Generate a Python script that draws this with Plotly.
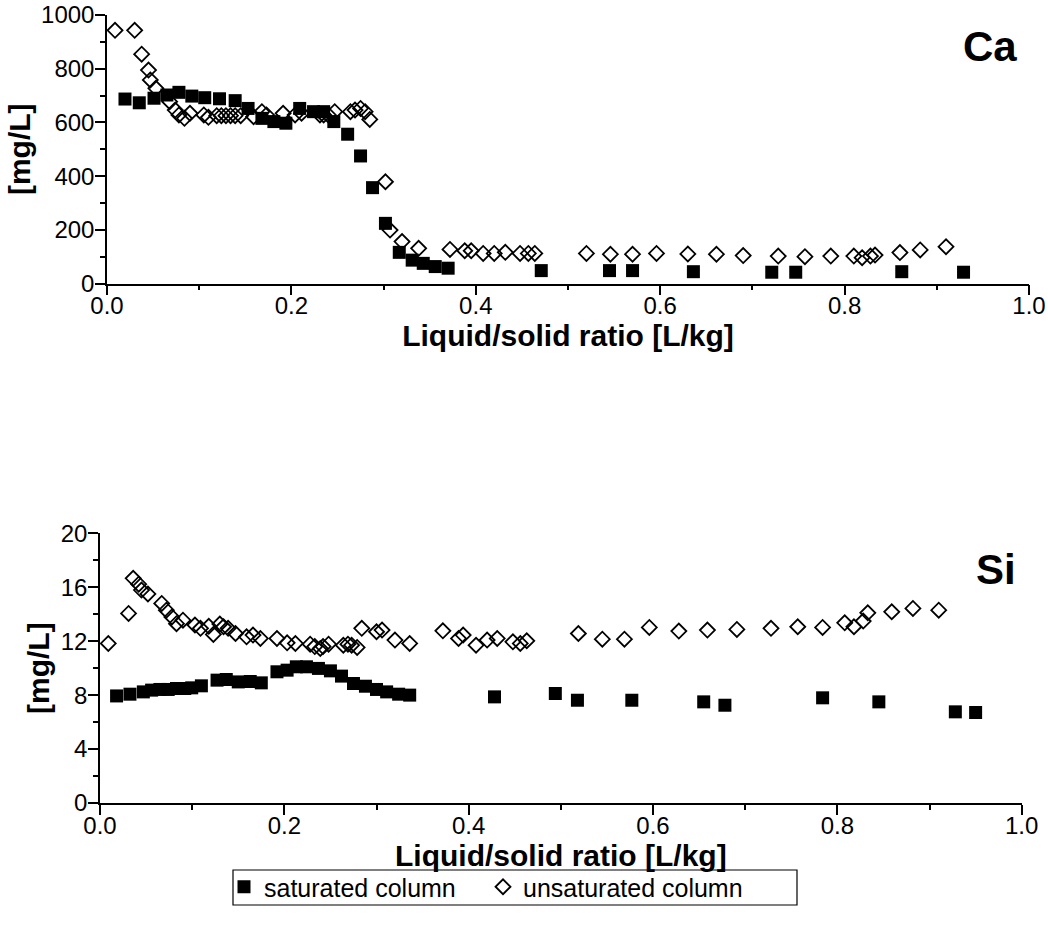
import plotly.graph_objects as go

# ---------------- data ----------------
ca_sat_x = [0.0195, 0.035, 0.051, 0.065, 0.078, 0.092, 0.106, 0.122, 0.139, 0.153, 0.168, 0.181,
            0.194, 0.209, 0.224, 0.235, 0.246, 0.261, 0.275, 0.288, 0.302, 0.317, 0.331, 0.343,
            0.356, 0.370, 0.471, 0.545, 0.570, 0.636, 0.721, 0.747, 0.862, 0.929]
ca_sat_y = [687, 673, 690, 702, 712, 698, 692, 688, 681, 652, 615, 603,
            597, 652, 640, 640, 603, 556, 475, 357, 224, 116, 87, 75,
            63, 57, 48, 48, 48, 44, 42, 42, 44, 42]

ca_uns_x = [0.0087, 0.030, 0.0376, 0.045, 0.047, 0.053, 0.068, 0.074, 0.078, 0.084, 0.090, 0.105,
            0.110, 0.119, 0.124, 0.129, 0.134, 0.139, 0.145, 0.159, 0.168, 0.173, 0.191, 0.204,
            0.211, 0.231, 0.235, 0.240, 0.247, 0.264, 0.269, 0.275, 0.280, 0.285, 0.302, 0.307,
            0.320, 0.338, 0.372, 0.388, 0.395, 0.408, 0.420, 0.432, 0.448, 0.457, 0.464, 0.520,
            0.546, 0.570, 0.596, 0.630, 0.661, 0.690, 0.728, 0.757, 0.785, 0.810, 0.819, 0.828,
            0.833, 0.860, 0.882, 0.910]
ca_uns_y = [943, 943, 854, 795, 758, 727, 677, 646, 628, 615, 634, 628,
            619, 625, 625, 625, 625, 625, 625, 621, 640, 628, 634, 628,
            634, 628, 628, 628, 640, 640, 646, 652, 640, 611, 379, 199,
            156, 131, 127, 122, 122, 112, 112, 116, 112, 112, 112, 112,
            109, 109, 112, 110, 109, 104, 102, 100, 102, 102, 96, 102,
            106, 115, 125, 137]

si_sat_x = [0.018, 0.0325, 0.047, 0.056, 0.065, 0.074, 0.083, 0.092, 0.0995, 0.110, 0.127, 0.137,
            0.150, 0.163, 0.175, 0.192, 0.203, 0.213, 0.224, 0.237, 0.250, 0.262, 0.275, 0.288,
            0.300, 0.311, 0.324, 0.336, 0.428, 0.494, 0.518, 0.577, 0.655, 0.678, 0.784, 0.845,
            0.928, 0.950]
si_sat_y = [7.94, 8.07, 8.24, 8.37, 8.42, 8.42, 8.49, 8.49, 8.54, 8.69, 9.11, 9.16,
            8.98, 9.01, 8.91, 9.73, 9.85, 10.1, 10.1, 9.98, 9.80, 9.41, 8.86, 8.66,
            8.42, 8.24, 8.07, 8.0, 7.87, 8.12, 7.62, 7.62, 7.5, 7.25, 7.8, 7.5,
            6.76, 6.71]

si_uns_x = [0.009, 0.031, 0.036, 0.042, 0.045, 0.052, 0.067, 0.072, 0.078, 0.083, 0.090, 0.103,
            0.109, 0.118, 0.123, 0.130, 0.134, 0.139, 0.147, 0.159, 0.166, 0.174, 0.192, 0.203,
            0.212, 0.228, 0.233, 0.239, 0.242, 0.248, 0.264, 0.269, 0.273, 0.279, 0.284, 0.300,
            0.306, 0.320, 0.336, 0.372, 0.389, 0.394, 0.408, 0.420, 0.431, 0.448, 0.456, 0.463,
            0.519, 0.545, 0.569, 0.596, 0.628, 0.659, 0.691, 0.728, 0.757, 0.784, 0.808, 0.818,
            0.828, 0.833, 0.859, 0.882, 0.910]
si_uns_y = [11.83, 14.06, 16.66, 16.23, 15.79, 15.5, 14.8, 14.3, 13.8, 13.3, 13.56, 13.2,
            12.95, 13.1, 12.5, 13.27, 13.07, 12.95, 12.57, 12.32, 12.45, 12.2, 12.2, 11.88,
            11.83, 11.78, 11.6, 11.46, 11.6, 11.78, 11.7, 11.78, 11.7, 11.54, 12.95, 12.7,
            12.82, 12.08, 11.83, 12.77, 12.2, 12.45, 11.7, 12.08, 12.2, 11.95, 11.83, 12.03,
            12.57, 12.15, 12.15, 13.02, 12.75, 12.82, 12.87, 12.95, 13.07, 13.02, 13.36, 13.07,
            13.49, 14.1, 14.18, 14.43, 14.3]

series_names = ["saturated column", "unsaturated column"]
x_title = "Liquid/solid ratio [L/kg]"
y_title = "[mg/L]"
panel_labels = ["Ca", "Si"]

# ---------------- figure ----------------
FONT = "Liberation Sans, Arial, sans-serif"
W, H = 1048, 937
ML, MR, MT, MB = 100, 19, 15, 134
PW, PH = W - ML - MR, H - MT - MB


def px_x(p):
    return (p - ML) / PW


def px_y(p):
    return (H - MB - p) / PH


sq = dict(symbol="square", size=13, color="black", line=dict(width=0))
dm = dict(symbol="diamond-open", size=11.5, color="black", line=dict(width=1.8, color="black"))

fig = go.Figure()
fig.add_trace(go.Scatter(x=ca_sat_x, y=ca_sat_y, mode="markers", marker=sq, name=series_names[0],
                         xaxis="x", yaxis="y", cliponaxis=False, legendgroup="s"))
fig.add_trace(go.Scatter(x=ca_uns_x, y=ca_uns_y, mode="markers", marker=dm, name=series_names[1],
                         xaxis="x", yaxis="y", cliponaxis=False, legendgroup="u"))
fig.add_trace(go.Scatter(x=si_sat_x, y=si_sat_y, mode="markers", marker=sq, name=series_names[0],
                         xaxis="x2", yaxis="y2", cliponaxis=False, showlegend=False, legendgroup="s"))
fig.add_trace(go.Scatter(x=si_uns_x, y=si_uns_y, mode="markers", marker=dm, name=series_names[1],
                         xaxis="x2", yaxis="y2", cliponaxis=False, showlegend=False, legendgroup="u"))

tickfont = dict(family=FONT, size=24, color="black")
titlefont = dict(family=FONT, size=30, color="black", weight="bold")


def xax(domain, anchor):
    return dict(domain=domain, anchor=anchor, range=[0, 1], dtick=0.2, tick0=0, tickformat=".1f",
                automargin=False,
                showline=True, linecolor="black", linewidth=1.5, ticks="outside", ticklen=10,
                tickwidth=1.5, tickcolor="black", showgrid=False, zeroline=False, tickfont=tickfont,
                ticklabelstandoff=-10,
                minor=dict(ticks="outside", ticklen=5, dtick=0.1, tickwidth=1.5, tickcolor="black", showgrid=False),
                title=dict(text=x_title, font=titlefont, standoff=0))


def yax(domain, anchor, rng, dt):
    return dict(domain=domain, anchor=anchor, range=rng, dtick=dt, tick0=0,
                automargin=False,
                showline=True, linecolor="black", linewidth=1.5, ticks="outside", ticklen=10,
                tickwidth=1.5, tickcolor="black", showgrid=False, zeroline=False, tickfont=tickfont,
                ticklabelstandoff=-4,
                minor=dict(ticks="outside", ticklen=5, dtick=dt / 2, tickwidth=1.5, tickcolor="black", showgrid=False),
                title=dict(text=y_title, font=titlefont, standoff=2))


fig.update_layout(
    width=W, height=H,
    margin=dict(l=ML, r=MR, t=MT, b=MB, autoexpand=False),
    paper_bgcolor="white", plot_bgcolor="white",
    font=dict(family=FONT, color="black"),
    xaxis=xax([px_x(107), 1.0], "y"),
    yaxis=yax([px_y(283.5), px_y(15)], "x", [0, 1000], 200),
    xaxis2=xax([0.0, px_x(1021.7)], "y2"),
    yaxis2=yax([0.0, px_y(533.3)], "x2", [0, 20], 4),
    showlegend=True,
    legend=dict(orientation="h", x=px_x(224), xanchor="left", y=px_y(864), yanchor="top",
                borderwidth=0, bgcolor="rgba(0,0,0,0)",
                font=dict(family=FONT, size=25, color="black"),
                entrywidth=214, itemsizing="trace"),
    shapes=[dict(type="rect", xref="paper", yref="paper",
                 x0=px_x(233), x1=px_x(797), y0=px_y(905), y1=px_y(870),
                 line=dict(color="black", width=1.2), fillcolor="rgba(0,0,0,0)")],
    annotations=[
        dict(text=panel_labels[0], x=0.958, y=881, xref="x", yref="y", showarrow=False,
             font=dict(family=FONT, size=42, color="black", weight="bold")),
        dict(text=panel_labels[1], x=0.972, y=17.3, xref="x2", yref="y2", showarrow=False,
             font=dict(family=FONT, size=42, color="black", weight="bold")),
    ],
)

fig.write_html("out.html")
